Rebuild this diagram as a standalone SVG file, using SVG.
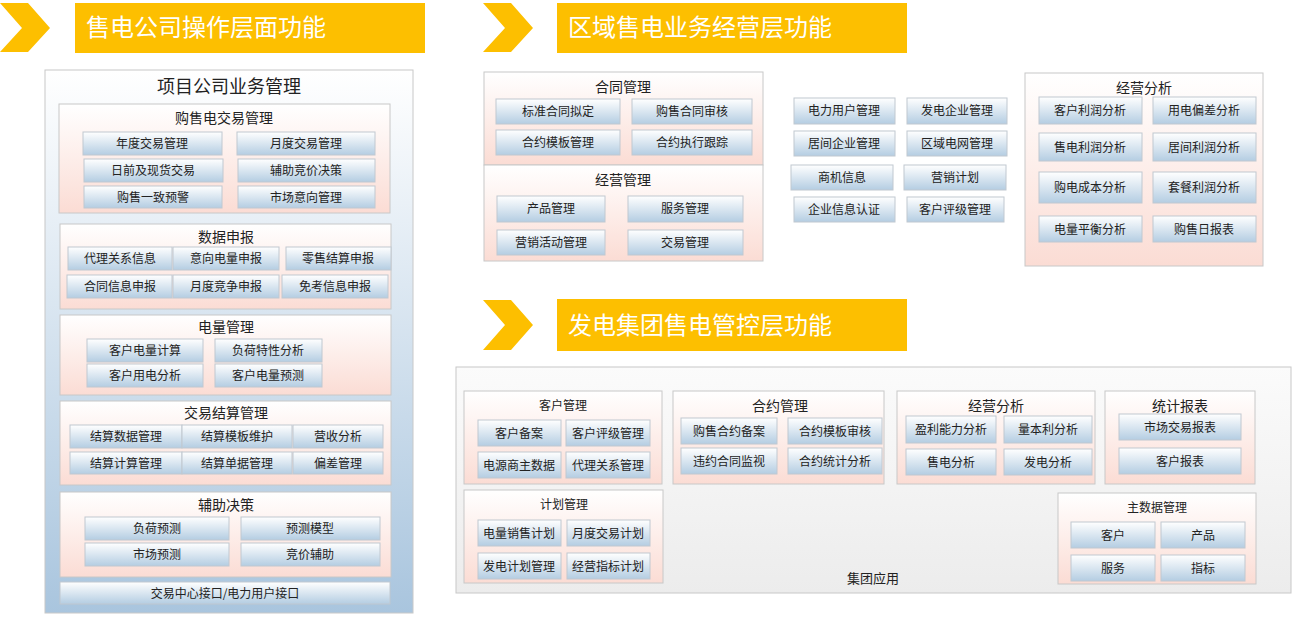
<svg xmlns="http://www.w3.org/2000/svg" width="1295" height="618" viewBox="0 0 1295 618">
<defs>
<linearGradient id="gp" x1="0" y1="0" x2="0" y2="1"><stop offset="0" stop-color="#ffffff"/><stop offset="1" stop-color="#fbdcd4"/></linearGradient>
<linearGradient id="gi" x1="0" y1="0" x2="0" y2="1"><stop offset="0" stop-color="#ffffff"/><stop offset="1" stop-color="#b4cde2"/></linearGradient>
<linearGradient id="go" x1="0" y1="0" x2="0" y2="1"><stop offset="0" stop-color="#ffffff"/><stop offset="1" stop-color="#a9c5de"/></linearGradient>
<linearGradient id="gg" x1="0" y1="0" x2="0" y2="1"><stop offset="0" stop-color="#fbfbfb"/><stop offset="1" stop-color="#ececec"/></linearGradient>
</defs>
<style>
text{font-family:"Noto Sans CJK SC","Liberation Sans",sans-serif;fill:#222;text-anchor:middle}
.g{fill:url(#gp);stroke:#c8c8c8;stroke-width:1}
.i{fill:url(#gi);stroke:#c0c8d0;stroke-width:1}
.it{font-size:12px}
.gt{font-size:14px}
.bn{fill:#fdbf00}
.bt{font-size:24px;fill:#fff;text-anchor:start}
</style>
<rect width="1295" height="618" fill="#fff"/>
<g id="h1"><polygon class="bn" points="0,3 28,3 50,28 28,52 0,52 22,28"/><rect class="bn" x="75" y="3" width="350" height="50"/><text class="bt" x="86" y="36">售电公司操作层面功能</text></g>
<g id="h2"><polygon class="bn" points="483,3 511,3 533,28 511,52 483,52 505,28"/><rect class="bn" x="557" y="3" width="350" height="50"/><text class="bt" x="568" y="36">区域售电业务经营层功能</text></g>
<g id="h3"><polygon class="bn" points="483,300 511,300 533,325 511,350 483,350 505,325"/><rect class="bn" x="557" y="299" width="350" height="52"/><text class="bt" x="568" y="334">发电集团售电管控层功能</text></g>

<g id="left">
<rect x="45" y="70" width="368" height="543" fill="url(#go)" stroke="#c8c8c8"/>
<text x="229" y="93" font-size="18">项目公司业务管理</text>
<rect class="g" x="59" y="104" width="331" height="109"/><text class="gt" x="224" y="123">购售电交易管理</text>
<rect class="i" x="83" y="132" width="139" height="23"/><text class="it" x="152" y="148">年度交易管理</text>
<rect class="i" x="237" y="132" width="138" height="23"/><text class="it" x="306" y="148">月度交易管理</text>
<rect class="i" x="84" y="159" width="139" height="23"/><text class="it" x="153" y="175">日前及现货交易</text>
<rect class="i" x="238" y="159" width="137" height="23"/><text class="it" x="306" y="175">辅助竞价决策</text>
<rect class="i" x="84" y="186" width="138" height="22"/><text class="it" x="153" y="202">购售一致预警</text>
<rect class="i" x="238" y="186" width="137" height="22"/><text class="it" x="306" y="202">市场意向管理</text>

<rect class="g" x="60" y="224" width="331" height="85"/><text class="gt" x="226" y="242">数据申报</text>
<rect class="i" x="68" y="247" width="104" height="23"/><text class="it" x="120" y="263">代理关系信息</text>
<rect class="i" x="173" y="247" width="106" height="23"/><text class="it" x="226" y="263">意向电量申报</text>
<rect class="i" x="286" y="247" width="105" height="23"/><text class="it" x="338" y="263">零售结算申报</text>
<rect class="i" x="67" y="275" width="105" height="23"/><text class="it" x="120" y="291">合同信息申报</text>
<rect class="i" x="173" y="275" width="106" height="23"/><text class="it" x="226" y="291">月度竞争申报</text>
<rect class="i" x="282" y="275" width="106" height="23"/><text class="it" x="335" y="291">免考信息申报</text>

<rect class="g" x="60" y="315" width="331" height="80"/><text class="gt" x="226" y="332">电量管理</text>
<rect class="i" x="87" y="339" width="116" height="23"/><text class="it" x="145" y="355">客户电量计算</text>
<rect class="i" x="215" y="339" width="107" height="23"/><text class="it" x="268" y="355">负荷特性分析</text>
<rect class="i" x="87" y="364" width="116" height="23"/><text class="it" x="145" y="380">客户用电分析</text>
<rect class="i" x="215" y="364" width="107" height="23"/><text class="it" x="268" y="380">客户电量预测</text>

<rect class="g" x="60" y="401" width="331" height="84"/><text class="gt" x="226" y="418">交易结算管理</text>
<rect class="i" x="70" y="425" width="112" height="23"/><text class="it" x="126" y="441">结算数据管理</text>
<rect class="i" x="182" y="425" width="110" height="23"/><text class="it" x="237" y="441">结算模板维护</text>
<rect class="i" x="293" y="425" width="90" height="23"/><text class="it" x="338" y="441">营收分析</text>
<rect class="i" x="70" y="452" width="112" height="22"/><text class="it" x="126" y="468">结算计算管理</text>
<rect class="i" x="182" y="452" width="110" height="22"/><text class="it" x="237" y="468">结算单据管理</text>
<rect class="i" x="293" y="452" width="90" height="22"/><text class="it" x="338" y="468">偏差管理</text>

<rect class="g" x="60" y="492" width="331" height="85"/><text class="gt" x="226" y="510">辅助决策</text>
<rect class="i" x="85" y="517" width="144" height="23"/><text class="it" x="157" y="533">负荷预测</text>
<rect class="i" x="241" y="517" width="139" height="23"/><text class="it" x="310" y="533">预测模型</text>
<rect class="i" x="85" y="543" width="144" height="23"/><text class="it" x="157" y="559">市场预测</text>
<rect class="i" x="241" y="543" width="139" height="23"/><text class="it" x="310" y="559">竞价辅助</text>

<rect class="i" x="60" y="582" width="330" height="22"/><text class="it" x="225" y="598">交易中心接口/电力用户接口</text>
</g>

<g id="mid">
<rect class="g" x="484" y="72" width="279" height="93"/><text class="gt" x="623" y="92">合同管理</text>
<rect class="i" x="496" y="99" width="124" height="25"/><text class="it" x="558" y="116">标准合同拟定</text>
<rect class="i" x="632" y="99" width="120" height="25"/><text class="it" x="692" y="116">购售合同审核</text>
<rect class="i" x="496" y="130" width="124" height="25"/><text class="it" x="558" y="147">合约模板管理</text>
<rect class="i" x="632" y="130" width="120" height="25"/><text class="it" x="692" y="147">合约执行跟踪</text>
<rect class="g" x="484" y="165" width="279" height="96"/><text class="gt" x="623" y="185">经营管理</text>
<rect class="i" x="497" y="196" width="108" height="26"/><text class="it" x="551" y="213">产品管理</text>
<rect class="i" x="628" y="196" width="115" height="26"/><text class="it" x="685" y="213">服务管理</text>
<rect class="i" x="497" y="230" width="108" height="25"/><text class="it" x="551" y="247">营销活动管理</text>
<rect class="i" x="628" y="230" width="115" height="25"/><text class="it" x="685" y="247">交易管理</text>
</g>
<g id="midcol">
<rect class="i" x="794" y="98" width="101" height="26"/><text class="it" x="844" y="115">电力用户管理</text>
<rect class="i" x="907" y="98" width="100" height="26"/><text class="it" x="957" y="115">发电企业管理</text>
<rect class="i" x="794" y="131" width="101" height="25"/><text class="it" x="844" y="148">居间企业管理</text>
<rect class="i" x="907" y="131" width="100" height="25"/><text class="it" x="957" y="148">区域电网管理</text>
<rect class="i" x="791" y="165" width="102" height="25"/><text class="it" x="842" y="182">商机信息</text>
<rect class="i" x="904" y="165" width="102" height="25"/><text class="it" x="955" y="182">营销计划</text>
<rect class="i" x="794" y="197" width="101" height="25"/><text class="it" x="844" y="214">企业信息认证</text>
<rect class="i" x="907" y="197" width="97" height="25"/><text class="it" x="955" y="214">客户评级管理</text>
</g>
<g id="jyfx">
<rect class="g" x="1025" y="73" width="238" height="193"/><text class="gt" x="1144" y="93">经营分析</text>
<rect class="i" x="1039" y="97" width="103" height="27"/><text class="it" x="1090" y="115">客户利润分析</text>
<rect class="i" x="1153" y="97" width="103" height="27"/><text class="it" x="1204" y="115">用电偏差分析</text>
<rect class="i" x="1039" y="133" width="103" height="28"/><text class="it" x="1090" y="152">售电利润分析</text>
<rect class="i" x="1153" y="133" width="103" height="28"/><text class="it" x="1204" y="152">居间利润分析</text>
<rect class="i" x="1039" y="172" width="103" height="31"/><text class="it" x="1090" y="192">购电成本分析</text>
<rect class="i" x="1153" y="172" width="103" height="31"/><text class="it" x="1204" y="192">套餐利润分析</text>
<rect class="i" x="1039" y="216" width="103" height="26"/><text class="it" x="1090" y="234">电量平衡分析</text>
<rect class="i" x="1153" y="216" width="103" height="26"/><text class="it" x="1204" y="234">购售日报表</text>
</g>

<g id="group">
<rect x="456" y="367" width="835" height="226" fill="url(#gg)" stroke="#c8c8c8"/>
<text x="873" y="583" font-size="13">集团应用</text>
<rect class="g" x="464" y="391" width="198" height="93"/><text class="it" x="563" y="410">客户管理</text>
<rect class="i" x="478" y="420" width="83" height="26"/><text class="it" x="519" y="438">客户备案</text>
<rect class="i" x="566" y="420" width="84" height="26"/><text class="it" x="608" y="438">客户评级管理</text>
<rect class="i" x="478" y="452" width="83" height="26"/><text class="it" x="519" y="470">电源商主数据</text>
<rect class="i" x="566" y="452" width="84" height="26"/><text class="it" x="608" y="470">代理关系管理</text>

<rect class="g" x="673" y="391" width="211" height="93"/><text class="gt" x="780" y="411">合约管理</text>
<rect class="i" x="681" y="418" width="96" height="26"/><text class="it" x="729" y="436">购售合约备案</text>
<rect class="i" x="788" y="418" width="94" height="26"/><text class="it" x="835" y="436">合约模板审核</text>
<rect class="i" x="681" y="448" width="96" height="26"/><text class="it" x="729" y="466">违约合同监视</text>
<rect class="i" x="788" y="448" width="94" height="26"/><text class="it" x="835" y="466">合约统计分析</text>

<rect class="g" x="897" y="391" width="198" height="93"/><text class="gt" x="996" y="411">经营分析</text>
<rect class="i" x="906" y="416" width="90" height="27"/><text class="it" x="951" y="434">盈利能力分析</text>
<rect class="i" x="1004" y="416" width="88" height="27"/><text class="it" x="1048" y="434">量本利分析</text>
<rect class="i" x="906" y="449" width="90" height="26"/><text class="it" x="951" y="467">售电分析</text>
<rect class="i" x="1004" y="449" width="88" height="26"/><text class="it" x="1048" y="467">发电分析</text>

<rect class="g" x="1105" y="391" width="150" height="93"/><text class="gt" x="1180" y="411">统计报表</text>
<rect class="i" x="1119" y="414" width="122" height="26"/><text class="it" x="1180" y="432">市场交易报表</text>
<rect class="i" x="1119" y="448" width="122" height="26"/><text class="it" x="1180" y="466">客户报表</text>

<rect class="g" x="464" y="490" width="199" height="93"/><text class="it" x="564" y="509">计划管理</text>
<rect class="i" x="478" y="520" width="83" height="26"/><text class="it" x="519" y="538">电量销售计划</text>
<rect class="i" x="567" y="520" width="83" height="26"/><text class="it" x="608" y="538">月度交易计划</text>
<rect class="i" x="478" y="553" width="83" height="26"/><text class="it" x="519" y="571">发电计划管理</text>
<rect class="i" x="567" y="553" width="83" height="26"/><text class="it" x="608" y="571">经营指标计划</text>

<rect class="g" x="1058" y="493" width="198" height="91"/><text class="it" x="1157" y="512">主数据管理</text>
<rect class="i" x="1071" y="522" width="84" height="26"/><text class="it" x="1113" y="540">客户</text>
<rect class="i" x="1161" y="522" width="84" height="26"/><text class="it" x="1203" y="540">产品</text>
<rect class="i" x="1071" y="555" width="84" height="26"/><text class="it" x="1113" y="573">服务</text>
<rect class="i" x="1161" y="555" width="84" height="26"/><text class="it" x="1203" y="573">指标</text>
</g>
<g id="connectors"/>
</svg>
